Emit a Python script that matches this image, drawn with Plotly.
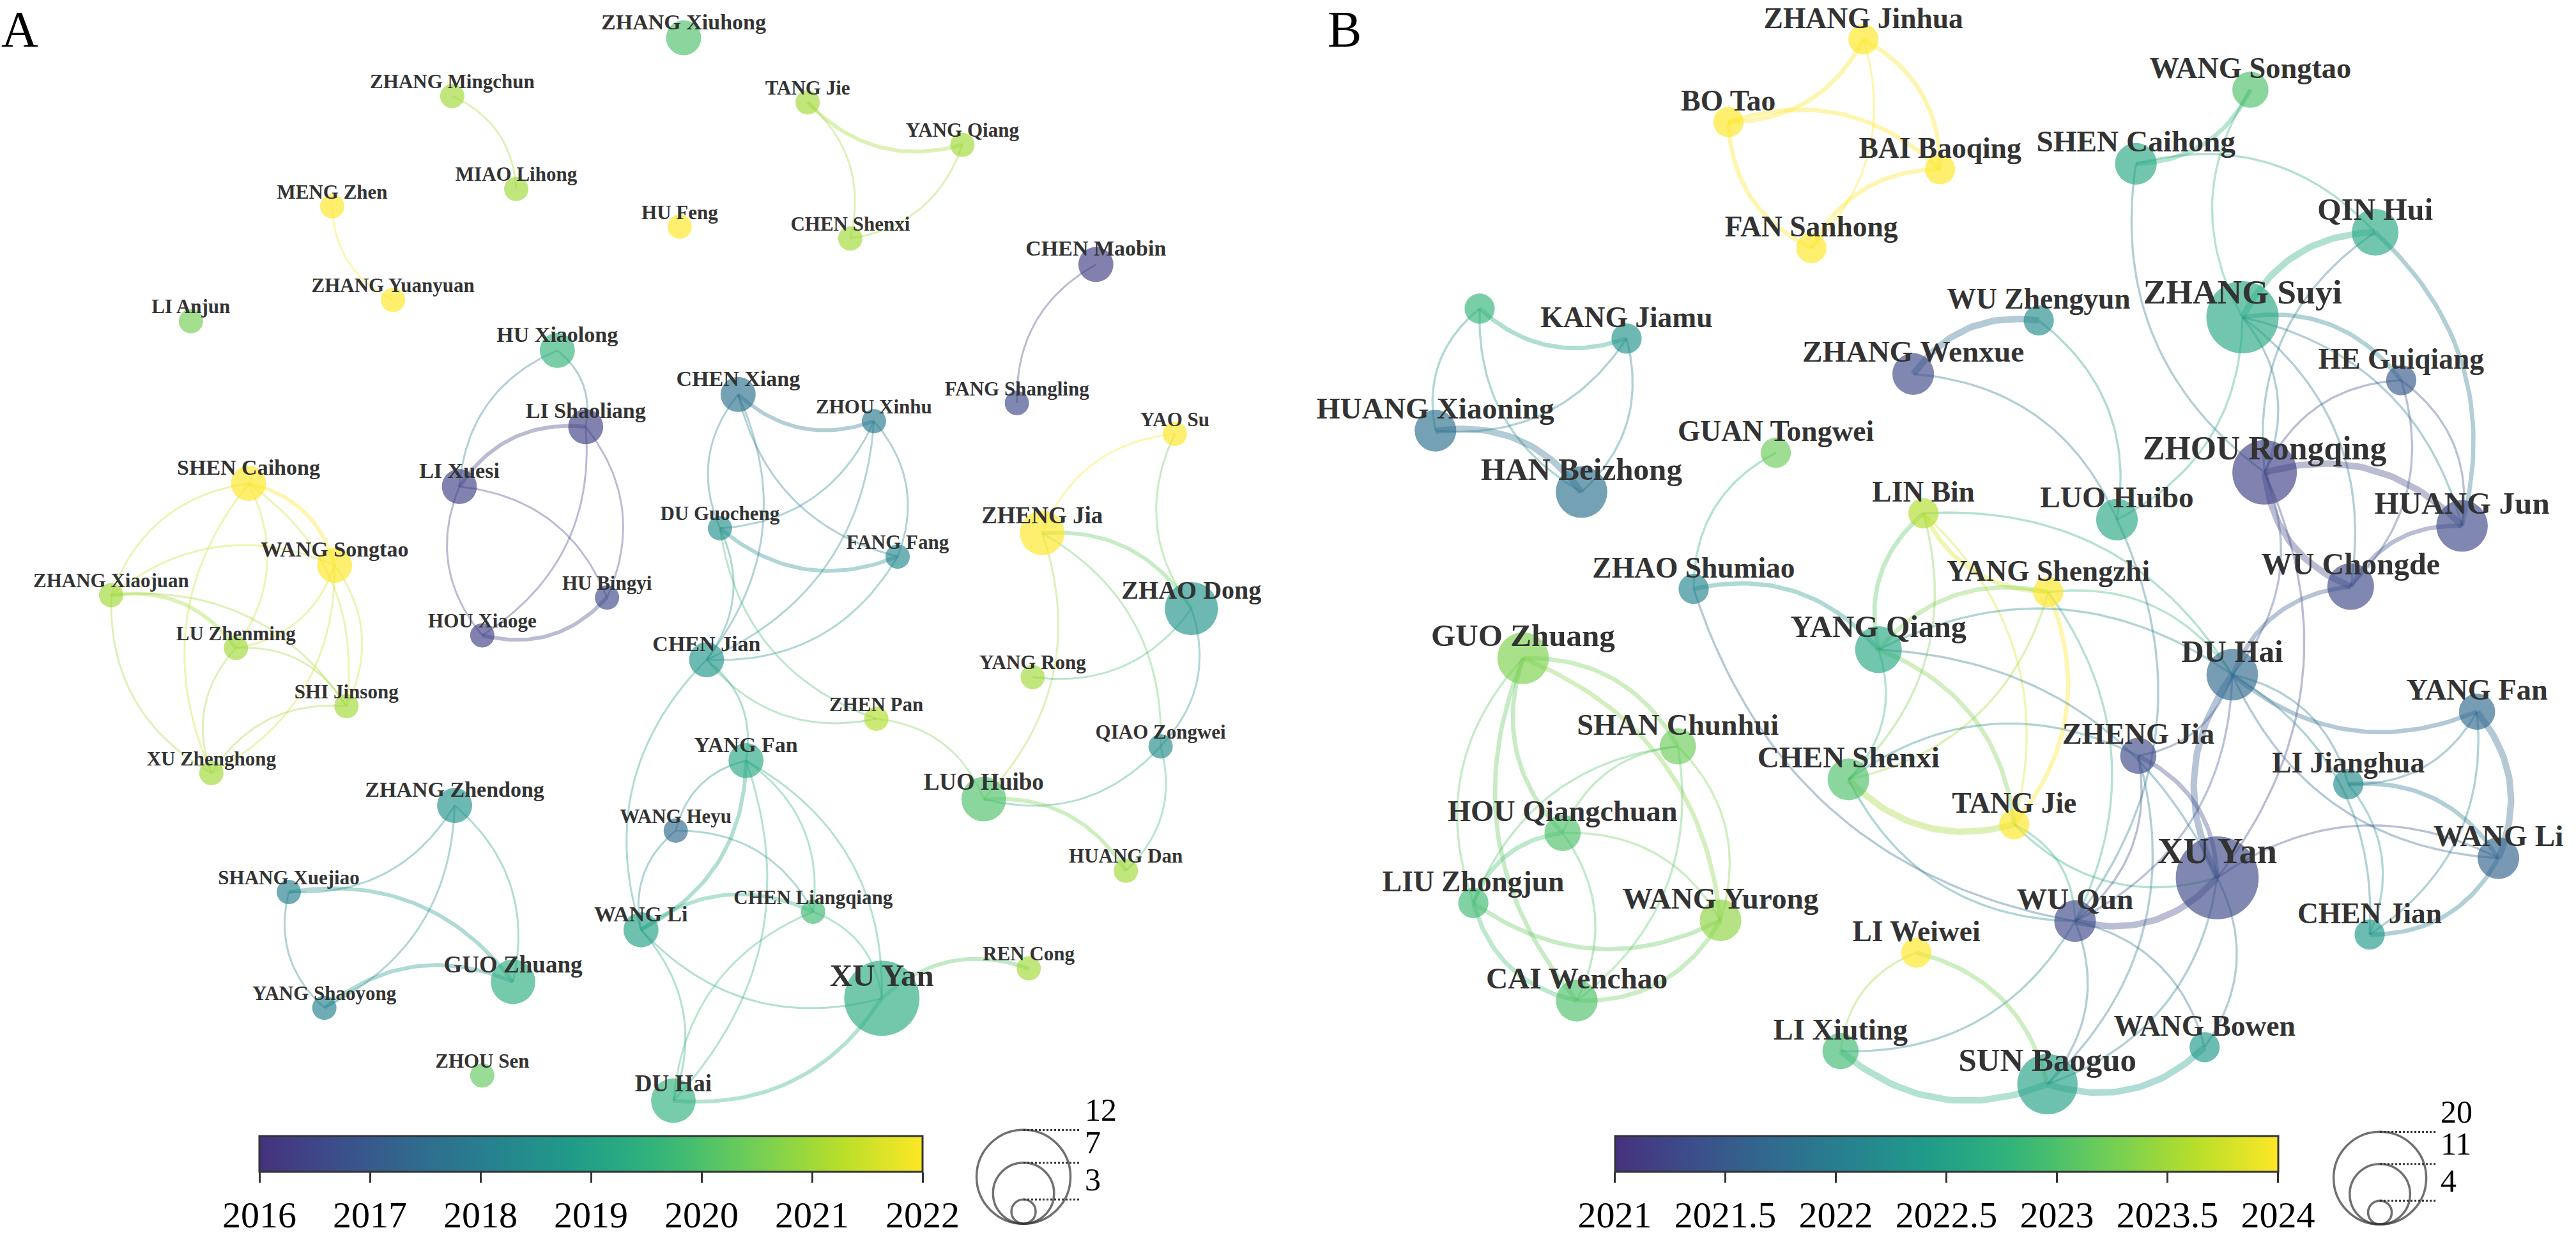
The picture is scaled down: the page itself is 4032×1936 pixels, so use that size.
import numpy as np
import plotly.graph_objects as go
from plotly.colors import sample_colorscale, unlabel_rgb

# ---------------- Panel A data ----------------
A_names = ["ZHANG Xiuhong", "ZHANG Mingchun", "TANG Jie", "YANG Qiang", "MIAO Lihong", "MENG Zhen",
           "HU Feng", "CHEN Shenxi", "CHEN Maobin", "ZHANG Yuanyuan", "LI Anjun", "HU Xiaolong",
           "CHEN Xiang", "ZHOU Xinhu", "FANG Shangling", "LI Shaoliang", "YAO Su", "LI Xuesi",
           "SHEN Caihong", "DU Guocheng", "FANG Fang", "ZHENG Jia", "WANG Songtao", "ZHAO Dong",
           "HU Bingyi", "ZHANG Xiaojuan", "HOU Xiaoge", "LU Zhenming", "CHEN Jian", "SHI Jinsong",
           "YANG Rong", "ZHEN Pan", "QIAO Zongwei", "XU Zhenghong", "YANG Fan", "LUO Huibo",
           "ZHANG Zhendong", "WANG Heyu", "SHANG Xuejiao", "HUANG Dan", "CHEN Liangqiang", "WANG Li",
           "XU Yan", "GUO Zhuang", "REN Cong", "YANG Shaoyong", "ZHOU Sen", "DU Hai"]
A_x = [801, 508, 958, 1154, 589, 356, 796, 1012, 1323, 433, 177, 641, 870, 1042, 1223, 677, 1423, 517,
       250, 847, 1072, 1255, 359, 1444, 704, 76, 546, 234, 830, 374, 1243, 1045, 1405, 203, 880, 1181,
       511, 791, 301, 1361, 965, 747, 1052, 585, 1238, 346, 546, 788]
A_y = [48, 122, 130, 184, 240, 262, 288, 303, 336, 381, 408, 445, 501, 535, 512, 542, 551, 618,
       614, 671, 707, 677, 718, 773, 759, 756, 807, 823, 838, 897, 860, 913, 948, 982, 966, 1015,
       1023, 1055, 1133, 1106, 1158, 1181, 1268, 1247, 1230, 1280, 1366, 1398]
A_year = [2020.0, 2021.0, 2021.0, 2021.0, 2021.0, 2022.0, 2022.0, 2021.0, 2016.3, 2022.0, 2020.5, 2019.6,
          2017.6, 2017.9, 2016.6, 2016.4, 2022.0, 2016.4, 2022.0, 2018.5, 2018.3, 2022.0, 2022.0, 2018.6,
          2016.6, 2021.0, 2016.4, 2021.0, 2018.7, 2021.0, 2021.0, 2021.2, 2018.4, 2021.0, 2019.2, 2020.0,
          2018.6, 2017.4, 2018.1, 2021.0, 2019.8, 2019.0, 2019.3, 2019.4, 2021.0, 2018.1, 2020.3, 2019.5]
A_count = [4, 3, 3, 3, 3, 3, 3, 3, 4, 3, 3, 4, 4, 3, 3, 4, 3, 4, 4, 3, 3, 5, 4, 6,
           3, 3, 3, 3, 4, 3, 3, 3, 3, 3, 4, 5, 4, 3, 3, 3, 3, 4, 9, 5, 3, 3, 3, 5]
A_edges = [
    ("ZHANG Mingchun", "MIAO Lihong", 1), ("ZHANG Yuanyuan", "MENG Zhen", 1),
    ("YANG Qiang", "TANG Jie", 2), ("TANG Jie", "CHEN Shenxi", 1), ("YANG Qiang", "CHEN Shenxi", 1),
    ("FANG Shangling", "CHEN Maobin", 1), ("LI Xuesi", "HU Xiaolong", 1), ("HU Xiaolong", "LI Shaoliang", 1),
    ("LI Xuesi", "LI Shaoliang", 2), ("LI Shaoliang", "HOU Xiaoge", 1), ("LI Shaoliang", "HU Bingyi", 1),
    ("HOU Xiaoge", "LI Xuesi", 1), ("LI Xuesi", "HU Bingyi", 1), ("HU Bingyi", "HOU Xiaoge", 2),
    ("SHEN Caihong", "WANG Songtao", 2), ("ZHANG Xiaojuan", "SHEN Caihong", 1), ("SHEN Caihong", "LU Zhenming", 1),
    ("SHEN Caihong", "SHI Jinsong", 1), ("XU Zhenghong", "SHEN Caihong", 1), ("ZHANG Xiaojuan", "WANG Songtao", 1),
    ("WANG Songtao", "LU Zhenming", 1), ("WANG Songtao", "SHI Jinsong", 1), ("WANG Songtao", "XU Zhenghong", 1),
    ("ZHANG Xiaojuan", "LU Zhenming", 2), ("ZHANG Xiaojuan", "SHI Jinsong", 1), ("XU Zhenghong", "ZHANG Xiaojuan", 1),
    ("LU Zhenming", "SHI Jinsong", 1), ("XU Zhenghong", "LU Zhenming", 1), ("XU Zhenghong", "SHI Jinsong", 1),
    ("ZHOU Xinhu", "CHEN Xiang", 2), ("DU Guocheng", "CHEN Xiang", 1), ("FANG Fang", "CHEN Xiang", 1),
    ("CHEN Xiang", "CHEN Jian", 1), ("ZHOU Xinhu", "DU Guocheng", 1), ("ZHOU Xinhu", "FANG Fang", 1),
    ("ZHOU Xinhu", "CHEN Jian", 1), ("FANG Fang", "DU Guocheng", 2), ("DU Guocheng", "CHEN Jian", 1),
    ("FANG Fang", "CHEN Jian", 1), ("ZHEN Pan", "DU Guocheng", 1), ("ZHEN Pan", "CHEN Jian", 1),
    ("ZHEN Pan", "LUO Huibo", 1), ("CHEN Jian", "YANG Fan", 1), ("WANG Li", "CHEN Jian", 1),
    ("ZHENG Jia", "YAO Su", 1), ("ZHAO Dong", "YAO Su", 1), ("ZHENG Jia", "ZHAO Dong", 2),
    ("ZHENG Jia", "LUO Huibo", 1), ("ZHENG Jia", "QIAO Zongwei", 1), ("ZHAO Dong", "YANG Rong", 1),
    ("ZHAO Dong", "QIAO Zongwei", 1), ("QIAO Zongwei", "LUO Huibo", 1), ("LUO Huibo", "HUANG Dan", 2),
    ("QIAO Zongwei", "HUANG Dan", 1),
    ("YANG Fan", "WANG Li", 2), ("WANG Heyu", "YANG Fan", 1), ("YANG Fan", "CHEN Liangqiang", 1),
    ("YANG Fan", "XU Yan", 1), ("YANG Fan", "DU Hai", 1), ("WANG Li", "WANG Heyu", 1),
    ("WANG Heyu", "CHEN Liangqiang", 1), ("WANG Li", "CHEN Liangqiang", 2), ("XU Yan", "WANG Li", 1),
    ("WANG Li", "DU Hai", 1), ("DU Hai", "CHEN Liangqiang", 1), ("CHEN Liangqiang", "XU Yan", 1),
    ("XU Yan", "DU Hai", 2), ("XU Yan", "REN Cong", 2),
    ("ZHANG Zhendong", "SHANG Xuejiao", 1), ("ZHANG Zhendong", "GUO Zhuang", 1),
    ("ZHANG Zhendong", "YANG Shaoyong", 1), ("SHANG Xuejiao", "GUO Zhuang", 2),
    ("YANG Shaoyong", "SHANG Xuejiao", 1), ("YANG Shaoyong", "GUO Zhuang", 2),
]
A_ticks = [2016, 2017, 2018, 2019, 2020, 2021, 2022]
A_tick_text = ["2016", "2017", "2018", "2019", "2020", "2021", "2022"]
A_legend_counts = [12, 7, 3]

# ---------------- Panel B data ----------------
B_names = ["ZHANG Jinhua", "WANG Songtao", "BO Tao", "SHEN Caihong", "BAI Baoqing", "FAN Sanhong",
           "QIN Hui", "", "ZHANG Suyi", "WU Zhengyun", "KANG Jiamu", "ZHANG Wenxue", "HE Guiqiang",
           "HUANG Xiaoning", "GUAN Tongwei", "ZHOU Rongqing", "HAN Beizhong", "LIN Bin", "LUO Huibo",
           "HUANG Jun", "WU Chongde", "ZHAO Shumiao", "YANG Shengzhi", "YANG Qiang", "GUO Zhuang",
           "DU Hai", "YANG Fan", "SHAN Chunhui", "ZHENG Jia", "CHEN Shenxi", "LI Jianghua", "TANG Jie",
           "HOU Qiangchuan", "WANG Li", "XU Yan", "LIU Zhongjun", "WANG Yurong", "WU Qun", "CHEN Jian",
           "LI Weiwei", "CAI Wenchao", "LI Xiuting", "WANG Bowen", "SUN Baoguo"]
B_x = [664, 1154, 493, 1009, 761, 598, 1312, 178, 1144, 886, 364, 727, 1345, 122, 553, 1172, 307, 740,
       985, 1422, 1281, 449, 898, 683, 233, 1131, 1441, 429, 1012, 645, 1278, 855, 283, 1468, 1112, 170,
       483, 932, 1305, 731, 301, 635, 1096, 897]
B_y = [50, 114, 155, 208, 215, 315, 295, 392, 403, 407, 430, 475, 483, 547, 575, 600, 625, 652,
       660, 668, 745, 748, 752, 825, 836, 857, 904, 948, 960, 990, 996, 1047, 1058, 1090, 1115, 1147,
       1169, 1170, 1187, 1210, 1271, 1335, 1330, 1377]
B_year = [2024.0, 2023.0, 2024.0, 2022.6, 2024.0, 2024.0, 2022.6, 2022.8, 2022.6, 2022.2, 2022.3, 2021.3,
          2021.5, 2021.8, 2023.2, 2021.2, 2021.8, 2023.6, 2022.6, 2021.3, 2021.3, 2022.1, 2024.0, 2022.6,
          2023.3, 2021.7, 2021.7, 2023.2, 2021.3, 2023.0, 2022.2, 2024.0, 2023.0, 2021.6, 2021.3, 2022.9,
          2023.4, 2021.3, 2022.4, 2024.0, 2023.0, 2022.9, 2022.4, 2022.5]
B_count = [5, 6, 5, 7, 5, 5, 8, 5, 14, 5, 5, 7, 5, 7, 5, 12, 9, 5, 7, 9, 8, 5, 5, 8, 9, 9, 6, 6, 6, 7,
           5, 5, 6, 7, 17, 5, 7, 7, 5, 5, 7, 6, 5, 11]
B_edges = [
    ("ZHANG Jinhua", "BO Tao", 2), ("ZHANG Jinhua", "BAI Baoqing", 2), ("ZHANG Jinhua", "FAN Sanhong", 1),
    ("BO Tao", "BAI Baoqing", 2), ("FAN Sanhong", "BO Tao", 2), ("FAN Sanhong", "BAI Baoqing", 2),
    ("KANG Jiamu", "", 2), ("HUANG Xiaoning", "", 1), ("HAN Beizhong", "", 1),
    ("KANG Jiamu", "HUANG Xiaoning", 1), ("KANG Jiamu", "HAN Beizhong", 1), ("HUANG Xiaoning", "HAN Beizhong", 3),
    ("WANG Songtao", "SHEN Caihong", 2), ("ZHANG Suyi", "WANG Songtao", 1), ("SHEN Caihong", "QIN Hui", 1),
    ("ZHOU Rongqing", "SHEN Caihong", 1), ("ZHANG Suyi", "QIN Hui", 3), ("ZHOU Rongqing", "QIN Hui", 1),
    ("QIN Hui", "HUANG Jun", 2), ("ZHANG Suyi", "HE Guiqiang", 2), ("ZHANG Suyi", "ZHOU Rongqing", 1),
    ("ZHANG Suyi", "HUANG Jun", 1), ("ZHANG Suyi", "WU Chongde", 1), ("ZHANG Suyi", "LUO Huibo", 1),
    ("ZHOU Rongqing", "HUANG Jun", 3), ("WU Chongde", "ZHOU Rongqing", 3), ("ZHOU Rongqing", "HE Guiqiang", 1),
    ("ZHOU Rongqing", "DU Hai", 1), ("ZHOU Rongqing", "XU Yan", 1), ("WU Chongde", "HUANG Jun", 2),
    ("HE Guiqiang", "HUANG Jun", 1), ("HE Guiqiang", "WU Chongde", 1), ("DU Hai", "WU Chongde", 2),
    ("ZHANG Wenxue", "WU Zhengyun", 3), ("WU Zhengyun", "LUO Huibo", 1), ("ZHANG Wenxue", "LUO Huibo", 1),
    ("LUO Huibo", "WU Qun", 1), ("ZHAO Shumiao", "GUAN Tongwei", 1), ("ZHAO Shumiao", "YANG Qiang", 2),
    ("WU Qun", "ZHAO Shumiao", 1), ("YANG Qiang", "LIN Bin", 2), ("YANG Shengzhi", "LIN Bin", 2),
    ("LIN Bin", "CHEN Shenxi", 1), ("LIN Bin", "TANG Jie", 1), ("LIN Bin", "DU Hai", 1),
    ("YANG Qiang", "YANG Shengzhi", 2), ("YANG Shengzhi", "CHEN Shenxi", 1), ("YANG Shengzhi", "TANG Jie", 2),
    ("YANG Shengzhi", "DU Hai", 1), ("YANG Shengzhi", "WU Qun", 1), ("YANG Qiang", "CHEN Shenxi", 1),
    ("YANG Qiang", "TANG Jie", 2), ("YANG Qiang", "DU Hai", 1), ("YANG Qiang", "XU Yan", 1),
    ("TANG Jie", "CHEN Shenxi", 3), ("CHEN Shenxi", "ZHENG Jia", 1), ("WU Qun", "CHEN Shenxi", 1),
    ("TANG Jie", "WU Qun", 1), ("XU Yan", "TANG Jie", 1),
    ("GUO Zhuang", "SHAN Chunhui", 2), ("HOU Qiangchuan", "GUO Zhuang", 2), ("LIU Zhongjun", "GUO Zhuang", 1),
    ("GUO Zhuang", "WANG Yurong", 2), ("CAI Wenchao", "GUO Zhuang", 2), ("HOU Qiangchuan", "SHAN Chunhui", 1),
    ("LIU Zhongjun", "SHAN Chunhui", 1), ("SHAN Chunhui", "WANG Yurong", 1), ("SHAN Chunhui", "CAI Wenchao", 1),
    ("LIU Zhongjun", "HOU Qiangchuan", 2), ("HOU Qiangchuan", "WANG Yurong", 1), ("HOU Qiangchuan", "CAI Wenchao", 1),
    ("WANG Yurong", "LIU Zhongjun", 2), ("CAI Wenchao", "LIU Zhongjun", 2), ("WANG Yurong", "CAI Wenchao", 2),
    ("YANG Fan", "DU Hai", 2), ("DU Hai", "LI Jianghua", 1), ("WANG Li", "DU Hai", 1),
    ("DU Hai", "CHEN Jian", 1), ("DU Hai", "ZHENG Jia", 1), ("XU Yan", "DU Hai", 3),
    ("DU Hai", "WU Qun", 1), ("YANG Fan", "LI Jianghua", 1), ("YANG Fan", "WANG Li", 3),
    ("YANG Fan", "CHEN Jian", 1), ("LI Jianghua", "WANG Li", 2), ("LI Jianghua", "CHEN Jian", 1),
    ("WANG Li", "CHEN Jian", 2), ("XU Yan", "WANG Li", 1), ("ZHENG Jia", "XU Yan", 2),
    ("ZHENG Jia", "WU Qun", 1), ("ZHENG Jia", "SUN Baoguo", 1), ("XU Yan", "WU Qun", 3),
    ("XU Yan", "SUN Baoguo", 1), ("XU Yan", "WANG Bowen", 1), ("WU Qun", "SUN Baoguo", 1),
    ("WU Qun", "WANG Bowen", 1), ("WU Qun", "LI Xiuting", 1), ("LI Xiuting", "LI Weiwei", 1),
    ("LI Weiwei", "SUN Baoguo", 2), ("SUN Baoguo", "LI Xiuting", 3), ("WANG Bowen", "SUN Baoguo", 3),
]
B_ticks = [2021, 2021.5, 2022, 2022.5, 2023, 2023.5, 2024]
B_tick_text = ["2021", "2021.5", "2022", "2022.5", "2023", "2023.5", "2024"]
B_legend_counts = [20, 11, 4]

# ---------------- styling / scales ----------------
PX = 1.236                      # screen px per layout unit
RANGE_X = [-64.7, 1566.3]
RANGE_Y = [1566.3, 0]
SERIF = "Liberation Serif, Times New Roman, Tinos, DejaVu Serif, serif"
TEXT_COL = "#333333"
_vs = sample_colorscale("Viridis", list(np.linspace(0.14, 1.0, 18)))
SCALE = [[i / (len(_vs) - 1), c] for i, c in enumerate(_vs)]


def size_fn(vmin, vmax, dmin, dmax):
    a = (dmax - dmin) / (np.sqrt(vmax) - np.sqrt(vmin))
    return lambda v: dmin + a * (np.sqrt(np.asarray(v, dtype=float)) - np.sqrt(vmin))


panels = [
    dict(names=A_names, x=A_x, y=A_y, year=A_year, count=A_count, edges=A_edges,
         ticks=A_ticks, ticktext=A_tick_text, legend=A_legend_counts,
         size=size_fn(3, 12, 38, 147), font=lambda v: 22 + 3.0 * np.asarray(v),
         cmin=2016, cmax=2022, ax=("x", "y"), cax="coloraxis", ew=3.0,
         leg_cx=1231.4, leg_bottom=1554.2, leg_end=1304.2, cb_x=925 / 4032),
    dict(names=B_names, x=B_x, y=B_y, year=B_year, count=B_count, edges=B_edges,
         ticks=B_ticks, ticktext=B_tick_text, legend=B_legend_counts,
         size=size_fn(4, 20, 37, 145), font=lambda v: 41 + 0.9 * np.asarray(v),
         cmin=2021, cmax=2024, ax=("x2", "y2"), cax="coloraxis2", ew=3.4,
         leg_cx=1318.0, leg_bottom=1555.0, leg_end=1390.0, cb_x=3046.5 / 4032),
]


def arc(x0, y0, x1, y1, c=0.3, n=40):
    dx, dy = x1 - x0, y1 - y0
    mx, my = (x0 + x1) / 2, (y0 + y1) / 2
    cx, cy = mx + c * dy, my - c * dx
    t = np.linspace(0, 1, n)
    bx = (1 - t) ** 2 * x0 + 2 * (1 - t) * t * cx + t ** 2 * x1
    by = (1 - t) ** 2 * y0 + 2 * (1 - t) * t * cy + t ** 2 * y1
    return bx, by


fig = go.Figure()
layout_coloraxes = {}

for P in panels:
    xa, ya = P["ax"]
    idx = {n: i for i, n in enumerate(P["names"])}
    span = P["cmax"] - P["cmin"]
    # edges
    for s, t, w in P["edges"]:
        i, j = idx[s], idx[t]
        bx, by = arc(P["x"][i], P["y"][i], P["x"][j], P["y"][j])
        tm = ((P["year"][i] + P["year"][j]) / 2 - P["cmin"]) / span
        r, g, b = unlabel_rgb(sample_colorscale(SCALE, [min(max(tm, 0), 1)])[0])
        fig.add_trace(go.Scatter(
            x=bx, y=by, mode="lines", xaxis=xa, yaxis=ya, hoverinfo="skip",
            line=dict(color=f"rgba({r:.0f},{g:.0f},{b:.0f},0.36)", width=P["ew"] * w),
            showlegend=False, cliponaxis=False))
    # nodes
    d = P["size"](P["count"])
    fig.add_trace(go.Scatter(
        x=P["x"], y=P["y"], mode="markers", xaxis=xa, yaxis=ya,
        marker=dict(size=d, color=P["year"], coloraxis=P["cax"], opacity=0.66, line=dict(width=0)),
        text=P["names"], hoverinfo="text", showlegend=False, cliponaxis=False))
    # labels
    f = P["font"](P["count"])
    ly = np.asarray(P["y"], dtype=float) - 0.65 * f / PX
    fig.add_trace(go.Scatter(
        x=P["x"], y=ly, mode="text", xaxis=xa, yaxis=ya,
        text=[f"<b>{n}</b>" if n else "" for n in P["names"]],
        textposition="middle center",
        textfont=dict(family=SERIF, size=list(f), color=TEXT_COL),
        hoverinfo="skip", showlegend=False, cliponaxis=False))
    # size legend
    ld = P["size"](P["legend"])
    cy = P["leg_bottom"] - ld / 2 / PX
    tops = P["leg_bottom"] - ld / PX
    fig.add_trace(go.Scatter(
        x=[P["leg_cx"]] * len(ld), y=cy, mode="markers", xaxis=xa, yaxis=ya,
        marker=dict(symbol="circle-open", size=ld, color="#333333", line=dict(width=3.5, color="#333333")),
        hoverinfo="skip", showlegend=False, cliponaxis=False))
    for tp in tops:
        fig.add_trace(go.Scatter(
            x=[P["leg_cx"], P["leg_end"]], y=[tp, tp], mode="lines", xaxis=xa, yaxis=ya,
            line=dict(color="#333333", width=3, dash="dot"),
            hoverinfo="skip", showlegend=False, cliponaxis=False))
    fig.add_trace(go.Scatter(
        x=[P["leg_end"] + 6 / PX] * len(ld), y=tops - 27 / PX, mode="text", xaxis=xa, yaxis=ya,
        text=[str(v) for v in P["legend"]], textposition="middle right",
        textfont=dict(family=SERIF, size=50, color="black"),
        hoverinfo="skip", showlegend=False, cliponaxis=False))
    layout_coloraxes[P["cax"]] = dict(
        colorscale=SCALE, cmin=P["cmin"], cmax=P["cmax"],
        colorbar=dict(orientation="h", x=P["cb_x"], xanchor="center",
                      y=1 - 1784 / 1936, yanchor="top", len=1038, lenmode="pixels",
                      thickness=56, thicknessmode="pixels", outlinewidth=3, outlinecolor="#333333",
                      ticks="outside", ticklen=16, tickwidth=3, tickcolor="#333333",
                      tickvals=P["ticks"], ticktext=P["ticktext"],
                      tickfont=dict(family=SERIF, size=58, color="black"),
                      xpad=0, ypad=0))

ax_common = dict(visible=False, showgrid=False, zeroline=False, fixedrange=True)
fig.update_layout(
    width=4032, height=1936, margin=dict(l=0, r=0, t=0, b=0, pad=0),
    paper_bgcolor="white", plot_bgcolor="white", showlegend=False,
    xaxis=dict(domain=[0, 0.5], range=RANGE_X, **ax_common),
    yaxis=dict(domain=[0, 1], range=RANGE_Y, anchor="x", **ax_common),
    xaxis2=dict(domain=[0.5, 1], range=RANGE_X, anchor="y2", **ax_common),
    yaxis2=dict(domain=[0, 1], range=RANGE_Y, anchor="x2", **ax_common),
    annotations=[
        dict(text="A", x=0.0, y=1.0, xref="paper", yref="paper", xanchor="left", yanchor="top",
             showarrow=False, font=dict(family=SERIF, size=80, color="black")),
        dict(text="B", x=2076 / 4032, y=1.0, xref="paper", yref="paper", xanchor="left", yanchor="top",
             showarrow=False, font=dict(family=SERIF, size=80, color="black")),
    ],
    **layout_coloraxes,
)

fig.write_html("out.html", config={"displayModeBar": False},
               post_script="document.body.style.margin='0';document.body.style.overflow='hidden';")
